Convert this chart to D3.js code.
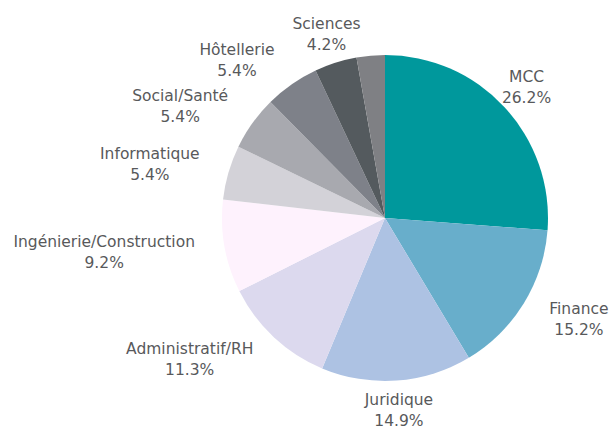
<!DOCTYPE html>
<html lang="fr">
<head>
  <meta charset="utf-8">
  <title>Répartition par secteur</title>
<style>
  body { margin: 0; background: #fff; }
  .label { font-family: "DejaVu Sans", sans-serif; font-size: 15.5px; fill: #58595b; }
</style>
  <script src="https://d3js.org/d3.v7.min.js"></script>
</head>
<body>
  <svg width="616" height="430"></svg>
  <script>
    // les données
    var secteurs = ["MCC", "Finance", "Juridique", "Administratif/RH", "Ingénierie/Construction",
                    "Informatique", "Social/Santé", "Hôtellerie", "Sciences", ""];
    var valeurs = [26.2, 15.2, 14.9, 11.3, 9.2, 5.4, 5.4, 5.4, 4.2, 2.8];
    var couleurs = ["#00989c", "#68aecb", "#adc2e3", "#dcd9ee", "#fef2fd",
                    "#d3d2d8", "#a8a9af", "#7e8189", "#545a5e", "#7f8084"];

    var svg = d3.select("svg"),
        cx = 385, cy = 218, rayon = 163, rayonLabel = 193;

    var data = secteurs.map(function(s, i) {
      return { nom: s, valeur: valeurs[i], couleur: couleurs[i] };
    });

    var pie = d3.pie().sort(null).value(function(d) { return d.valeur; });
    var arc = d3.arc().innerRadius(0).outerRadius(rayon);

    var g = svg.append("g").attr("transform", "translate(" + cx + "," + cy + ")");

    g.selectAll("path")
      .data(pie(data))
      .enter().append("path")
        .attr("d", arc)
        .attr("fill", function(d) { return d.data.couleur; });

    // étiquettes : deux lignes centrées, le bloc est collé au point selon le côté
    var labels = g.selectAll("text")
      .data(pie(data).filter(function(d) { return d.data.nom !== ""; }))
      .enter().append("text")
        .attr("class", "label")
        .attr("text-anchor", "middle");

    labels.append("tspan")
      .attr("x", 0).attr("y", -5)
      .text(function(d) { return d.data.nom; });
    labels.append("tspan")
      .attr("x", 0).attr("y", 16)
      .text(function(d) { return d.data.valeur.toFixed(1) + "%"; });

    labels.attr("transform", function(d) {
      var a = (d.startAngle + d.endAngle) / 2,
          s = Math.sin(a),
          w = this.getBBox().width,
          x = s * rayonLabel,
          y = -Math.cos(a) * rayonLabel;
      if (s > 0.8) x += w / 2;
      else if (s < -0.5) x -= w / 2;
      return "translate(" + x + "," + y + ")";
    });
  </script>
</body>
</html>
